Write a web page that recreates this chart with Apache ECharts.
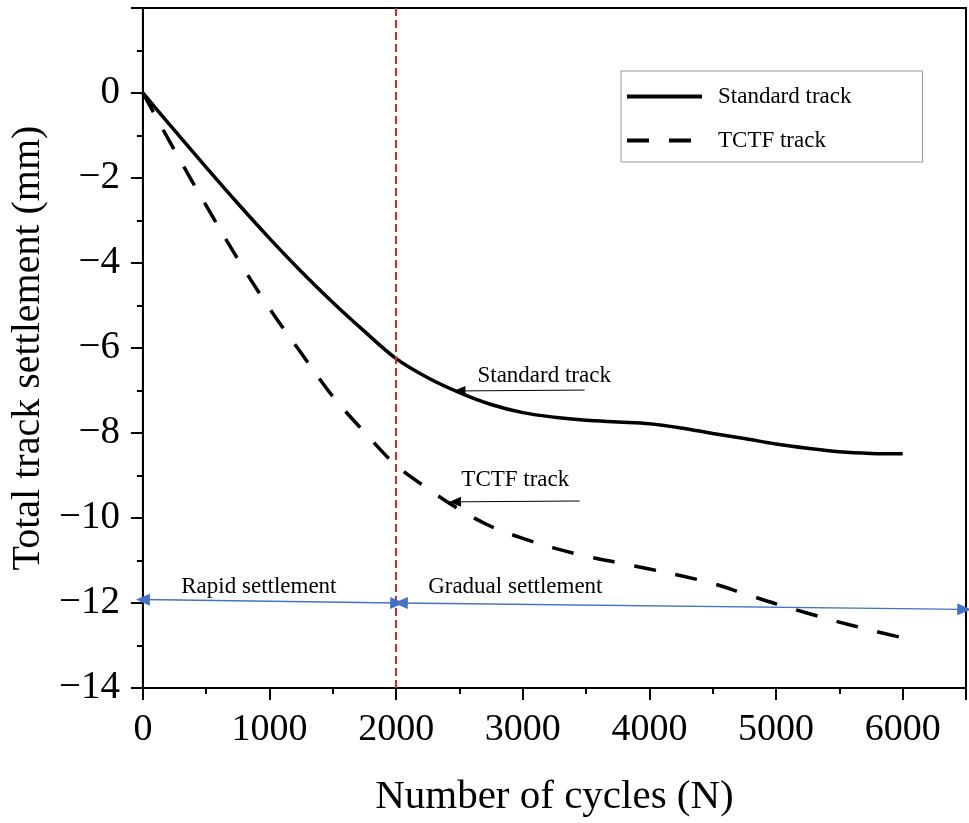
<!DOCTYPE html>
<html>
<head>
<meta charset="utf-8">
<script src="https://cdn.jsdelivr.net/npm/echarts@6/dist/echarts.min.js"></script>
<style>
  html, body { margin: 0; padding: 0; background: #fff; }
  #chart { width: 969px; height: 823px; }
</style>
</head>
<body>
<div id="chart"></div>
<script>
// Number of load cycles (N)
const cycles = [0, 250, 500, 750, 1000, 1250, 1500, 1750, 2000, 2250, 2500, 2750, 3000,
  3250, 3500, 3750, 4000, 4250, 4500, 4750, 5000, 5250, 5500, 5750, 6000];
// Total track settlement (mm)
const standardTrack = [0, -0.88, -1.75, -2.6, -3.42, -4.2, -4.93, -5.61, -6.25, -6.7, -7.05, -7.33, -7.52,
  -7.63, -7.7, -7.74, -7.78, -7.88, -8.01, -8.13, -8.26, -8.36, -8.44, -8.48, -8.49];
const tctfTrack = [0, -1.35, -2.65, -3.91, -5.07, -6.12, -7.14, -7.98, -8.76, -9.31, -9.8, -10.2, -10.48,
  -10.71, -10.9, -11.05, -11.2, -11.36, -11.54, -11.78, -12.02, -12.24, -12.45, -12.64, -12.82];

const seriesNames = ['Standard track', 'TCTF track'];
// Boundary between the two settlement stages
const stageBoundary = 2000;
// Stage span arrows: [[x0, y0], [x1, y1]]
const rapidSpan = [[0, -11.92], [2008, -12.0]];
const gradualSpan = [[2037, -12.0], [6486, -12.15]];
// Curve callouts: arrow tip, arrow tail, text anchor
const standardCallout = { tip: [2500, -7.01], tail: [3488, -6.99], text: [3169, -6.65] };
const tctfCallout = { tip: [2465, -9.62], tail: [3449, -9.6], text: [2941, -9.1] };
const stageLabels = [
  { name: 'Rapid settlement', coord: [916, -11.62] },
  { name: 'Gradual settlement', coord: [2941, -11.63] }
];

const FONT = "'Liberation Serif', 'Times New Roman', serif";
const toPairs = (xs, ys) => xs.map((x, i) => [x, ys[i]]);
const minus = v => (v < 0 ? '\u2212' + Math.abs(v) : String(v));

const chart = echarts.init(document.getElementById('chart'), null, { renderer: 'canvas' });

chart.setOption({
  animation: false,
  backgroundColor: '#fff',
  textStyle: { fontFamily: FONT, color: '#000' },
  grid: {
    left: 142, right: -3, top: 8, bottom: 132,
    show: true, borderColor: '#000', borderWidth: 2, backgroundColor: 'transparent'
  },
  legend: {
    data: seriesNames,
    orient: 'vertical',
    left: 621, top: 71,
    padding: [14, 71, 10, 4],
    itemGap: 21,
    itemWidth: 75,
    itemHeight: 14,
    borderColor: '#999', borderWidth: 1,
    backgroundColor: '#fff',
    itemStyle: { opacity: 0 },
    lineStyle: { width: 4 },
    textStyle: { fontFamily: FONT, fontSize: 23, color: '#000', padding: [0, 0, 0, 11] }
  },
  xAxis: {
    type: 'value', min: 0, max: 6500, interval: 1000,
    name: 'Number of cycles (N)', nameLocation: 'middle', nameGap: 89,
    nameTextStyle: { fontFamily: FONT, fontSize: 41, color: '#000' },
    axisLine: { show: true, onZero: false, lineStyle: { color: '#000', width: 2 } },
    axisTick: { show: true, length: 12, lineStyle: { color: '#000', width: 2 } },
    minorTick: { show: true, splitNumber: 2, length: 6, lineStyle: { color: '#000', width: 2 } },
    splitLine: { show: false },
    axisLabel: {
      fontFamily: FONT, fontSize: 38, color: '#000', margin: 23,
      formatter: v => (v % 1000 === 0 ? String(v) : '')
    }
  },
  yAxis: {
    type: 'value', min: -14, max: 2, interval: 2,
    name: 'Total track settlement (mm)', nameLocation: 'middle', nameGap: 87,
    nameTextStyle: { fontFamily: FONT, fontSize: 40, color: '#000' },
    axisLine: { show: true, onZero: false, lineStyle: { color: '#000', width: 2 } },
    axisTick: { show: true, length: 12, lineStyle: { color: '#000', width: 2 } },
    minorTick: { show: true, splitNumber: 2, length: 6, lineStyle: { color: '#000', width: 2 } },
    splitLine: { show: false },
    axisLabel: {
      fontFamily: FONT, fontSize: 39, color: '#000', margin: 23,
      formatter: v => (v === 2 ? '' : minus(v))
    }
  },
  series: [
    {
      name: seriesNames[0],
      type: 'line',
      data: toPairs(cycles, standardTrack),
      smooth: 0.35,
      symbol: 'none',
      color: '#000',
      lineStyle: { color: '#000', width: 3.5 },
      z: 3,
      markLine: {
        silent: true,
        symbol: ['none', 'none'],
        label: { show: false },
        data: [
          { xAxis: stageBoundary, lineStyle: { color: '#d9252b', width: 2, type: [8, 4] } },
          [
            { coord: standardCallout.tip, symbol: 'triangle', symbolSize: [10, 12] },
            { coord: standardCallout.tail, symbol: 'none' }
          ],
          [
            { coord: tctfCallout.tip, symbol: 'triangle', symbolSize: [10, 12] },
            { coord: tctfCallout.tail, symbol: 'none' }
          ]
        ],
        lineStyle: { color: '#000', width: 1, type: 'solid' }
      },
      markPoint: {
        silent: true,
        symbol: 'circle', symbolSize: 1,
        itemStyle: { color: 'rgba(0,0,0,0)' },
        label: {
          show: true, position: 'inside', formatter: '{b}',
          fontFamily: FONT, fontSize: 23, color: '#000'
        },
        data: [
          { name: seriesNames[0], coord: standardCallout.text },
          { name: seriesNames[1], coord: tctfCallout.text }
        ].concat(stageLabels)
      }
    },
    {
      name: seriesNames[1],
      type: 'line',
      data: toPairs(cycles, tctfTrack),
      smooth: 0.35,
      symbol: 'none',
      color: '#000',
      lineStyle: { color: '#000', width: 3.5, type: [22, 20] },
      z: 3,
      markLine: {
        silent: true,
        label: { show: false },
        symbol: ['triangle', 'triangle'],
        symbolSize: [12, 14],
        lineStyle: { color: '#4472c4', width: 1.5, type: 'solid' },
        data: [
          [{ coord: rapidSpan[0] }, { coord: rapidSpan[1] }],
          [{ coord: gradualSpan[0] }, { coord: gradualSpan[1] }]
        ]
      }
    }
  ]
});
</script>
</body>
</html>
